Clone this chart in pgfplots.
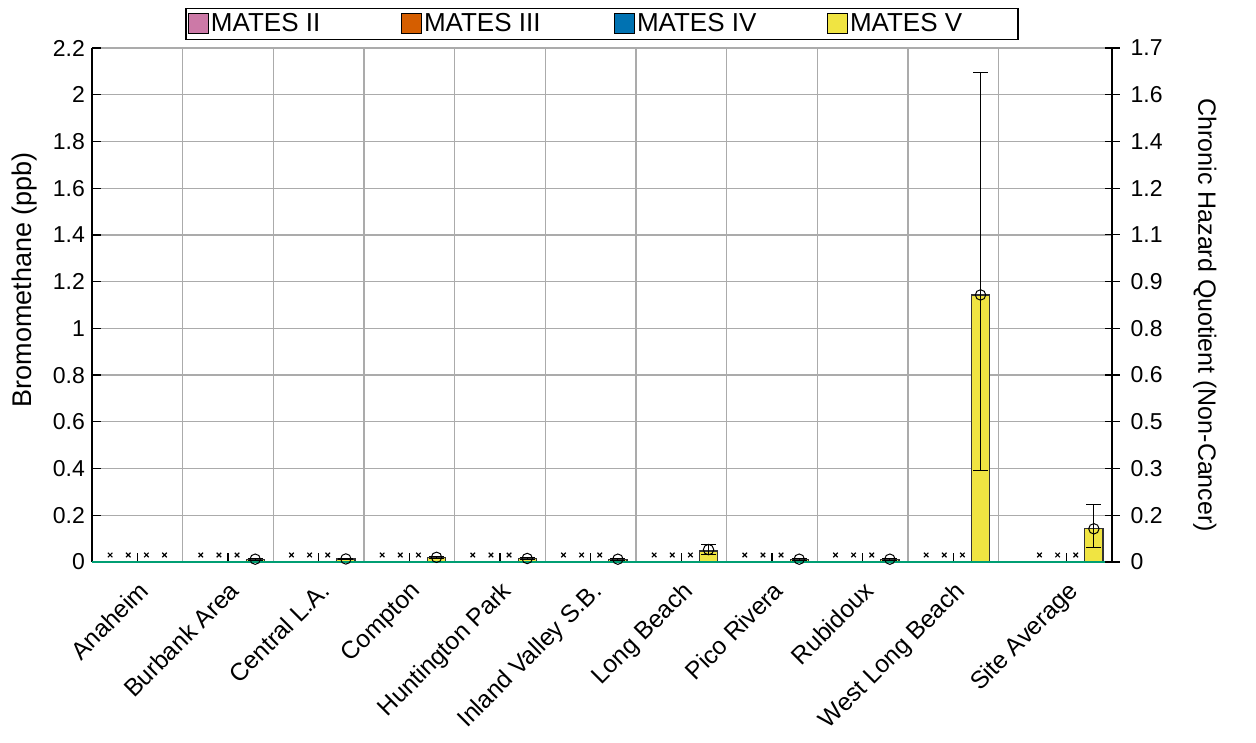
\documentclass[border=0pt]{standalone}
\usepackage{fontspec}
\setmainfont{Liberation Sans}
\usepackage{pgfplots}
\pgfplotsset{compat=1.18}
\definecolor{matesII}{HTML}{CC79A7}
\definecolor{matesIII}{HTML}{D55E00}
\definecolor{matesIV}{HTML}{0072B2}
\definecolor{matesV}{HTML}{F0E442}
\definecolor{refgreen}{HTML}{009E73}
\definecolor{gridgray}{HTML}{ABABAB}

\begin{document}
\begin{tikzpicture}
\begin{axis}[
  name=main,
  scale only axis,
  width=510pt, height=257pt,
  xmin=0.5, xmax=11.75,
  ymin=0, ymax=2.2,
  clip=false,
  axis x line*=bottom, axis y line*=left,
  axis line style={line width=0.8pt},
  tick align=inside,
  major tick length=4.5pt,
  minor tick length=0pt,
  tick style={black, line width=0.6pt},
  xtick={1,2,3,4,5,6,7,8,9,10,11.25},
  xticklabels={Anaheim,Burbank Area,Central L.A.,Compton,Huntington Park,Inland Valley S.B.,Long Beach,Pico Rivera,Rubidoux,West Long Beach,Site Average},
  x tick label style={yshift=-4pt, rotate=45, anchor=north east, font=\fontsize{12.3}{14}\selectfont},
  minor xtick={1.5,2.5,3.5,4.5,5.5,6.5,7.5,8.5,9.5,10.5},
  xminorgrids=true,
  minor grid style={gridgray, line width=0.6pt},
  ytick={0,0.2,0.4,0.6,0.8,1,1.2,1.4,1.6,1.8,2,2.2},
  y tick label style={font=\fontsize{11.5}{13}\selectfont},
  /pgf/number format/assume math mode=true,
  ymajorgrids=true,
  major grid style={gridgray, line width=0.6pt},
  ylabel={Bromomethane (ppb)},
  ylabel style={at={(axis description cs:-0.066,0.549)}, anchor=center, font=\fontsize{13.5}{15}\selectfont},
  legend columns=4,
  legend image code/.code={\draw[#1] (0pt,-5pt) rectangle (10pt,5pt);},
  legend style={at={(0.5,1)}, anchor=south, yshift=4pt, draw=black, line width=0.6pt,
    inner xsep=1pt, inner ysep=1.5pt, nodes={inner sep=1pt},
    font=\fontsize{13}{15}\selectfont, legend cell align=left},
]
\addlegendimage{fill=matesII, draw=black, line width=0.5pt}
\addlegendentry{\makebox[94pt][l]{MATES II}}
\addlegendimage{fill=matesIII, draw=black, line width=0.5pt}
\addlegendentry{\makebox[94pt][l]{MATES III}}
\addlegendimage{fill=matesIV, draw=black, line width=0.5pt}
\addlegendentry{\makebox[94pt][l]{MATES IV}}
\addlegendimage{fill=matesV, draw=black, line width=0.5pt}
\addlegendentry{\makebox[82pt][l]{MATES V}}

% MATES V mean concentrations
\addplot[ybar, bar width=0.2, bar shift=0pt, fill=matesV, draw=black!80, line width=0.6pt, forget plot]
  coordinates {(2.3,0.012) (3.3,0.013) (4.3,0.020) (5.3,0.015) (6.3,0.012) (7.3,0.047) (8.3,0.012) (9.3,0.012) (10.3,1.143) (11.55,0.142)};

% green reference line at zero
\addplot[refgreen, line width=1.1pt, forget plot] coordinates {(0.5,0) (11.75,0)};

% circles with error bars
\addplot[only marks, mark=o, mark size=2.6pt, black, line width=0.5pt, forget plot,
  error bars/.cd, y dir=both, y explicit,
  error bar style={black, line width=0.5pt},
  error mark options={rotate=90, mark size=3.75pt, black, line width=0.5pt}]
  coordinates {
    (2.3,0.012) +- (0,0.004)
    (3.3,0.013) +- (0,0.004)
    (4.3,0.020) +- (0,0.005)
    (5.3,0.015) +- (0,0.004)
    (6.3,0.012) +- (0,0.004)
    (7.3,0.053) += (0,0.024) -= (0,0.020)
    (8.3,0.012) +- (0,0.004)
    (9.3,0.012) +- (0,0.004)
    (10.3,1.143) += (0,0.952) -= (0,0.752)
    (11.55,0.142) += (0,0.105) -= (0,0.081)
  };

% missing data markers
\addplot[only marks, mark=x, mark size=1.6pt, black, line width=0.6pt, forget plot]
  coordinates {
    (0.7,0.03) (0.9,0.03) (1.1,0.03) (1.3,0.03)
    (1.7,0.03) (1.9,0.03) (2.1,0.03)
    (2.7,0.03) (2.9,0.03) (3.1,0.03)
    (3.7,0.03) (3.9,0.03) (4.1,0.03)
    (4.7,0.03) (4.9,0.03) (5.1,0.03)
    (5.7,0.03) (5.9,0.03) (6.1,0.03)
    (6.7,0.03) (6.9,0.03) (7.1,0.03)
    (7.7,0.03) (7.9,0.03) (8.1,0.03)
    (8.7,0.03) (8.9,0.03) (9.1,0.03)
    (9.7,0.03) (9.9,0.03) (10.1,0.03)
    (10.95,0.03) (11.15,0.03) (11.35,0.03)
  };
\end{axis}

\begin{axis}[
  scale only axis,
  width=510pt, height=257pt,
  xmin=0.5, xmax=11.75,
  ymin=0, ymax=2.2,
  axis x line=none, axis y line*=right,
  axis line style={line width=0.8pt},
  tick align=center,
  major tick length=7.5pt,
  tick style={black, line width=0.6pt},
  ytick={0,0.2,0.4,0.6,0.8,1,1.2,1.4,1.6,1.8,2,2.2},
  yticklabels={0,0.2,0.3,0.5,0.6,0.8,0.9,1.1,1.2,1.4,1.6,1.7},
  y tick label style={xshift=2pt, font=\fontsize{11.5}{13}\selectfont},
  ylabel={Chronic Hazard Quotient (Non-Cancer)},
  ylabel style={at={(axis description cs:1.091,0.48)}, anchor=center, rotate=180, font=\fontsize{12.5}{14}\selectfont},
]
\addplot[draw=none] coordinates {(1,0) (2,2.2)};
\end{axis}

\path (main.south west) ++(-46pt,-87pt) (main.north east) ++(72pt,24pt);
\end{tikzpicture}
\end{document}
